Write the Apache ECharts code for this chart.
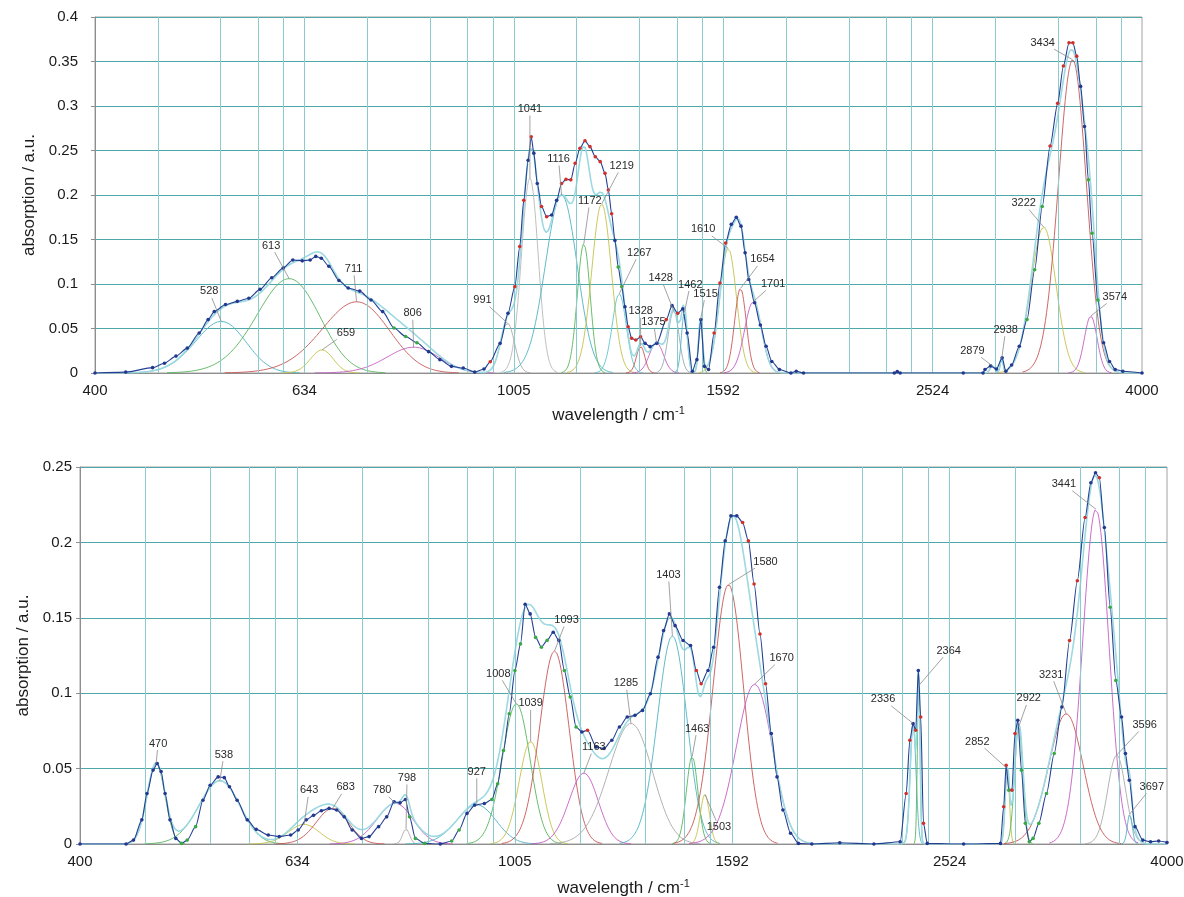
<!DOCTYPE html>
<html>
<head>
<meta charset="utf-8">
<title>IR absorption spectra with Gaussian band decomposition</title>
<script src="https://cdn.jsdelivr.net/npm/echarts@6/dist/echarts.min.js"></script>
<style>
  html, body { margin: 0; padding: 0; background: #ffffff; }
  #chart { width: 1184px; height: 897px; }
</style>
</head>
<body>
<div id="chart"></div>
<script>
// ---------------------------------------------------------------
// Spectrum A (upper panel): measured absorption
// ---------------------------------------------------------------
const topWavenumber = [
  400, 428, 454, 466, 478, 490, 503, 513, 520, 533,
  547, 561, 575, 590, 605, 618, 631, 642, 650, 658,
  669, 684, 698, 716, 734, 753, 772, 792, 812, 833,
  854, 876, 899, 922, 941, 954, 975, 992, 1007, 1018,
  1027, 1037, 1044, 1050, 1058, 1068, 1080, 1092, 1104, 1116,
  1127, 1139, 1150, 1162, 1175, 1188, 1202, 1215, 1228, 1237,
  1246, 1255, 1264, 1274, 1283, 1292, 1302, 1314, 1328, 1341,
  1356, 1376, 1405, 1423, 1441, 1457, 1471, 1488, 1503, 1516,
  1528, 1542, 1561, 1581, 1601, 1621, 1639, 1656, 1671, 1684,
  1706, 1728, 1750, 1772, 1802, 1848, 1870, 1900, 2320, 2335,
  2350, 2700, 2820, 2832, 2867, 2904, 2941, 2965, 3003, 3054,
  3106, 3159, 3212, 3268, 3323, 3365, 3407, 3436, 3465, 3495,
  3525, 3555, 3584, 3630, 3676, 3724, 3771, 3835, 4000
];
const topAbsorbance = [
  0, 0.001, 0.006, 0.011, 0.019, 0.028, 0.045, 0.06, 0.069, 0.077,
  0.0805, 0.084, 0.094, 0.107, 0.118, 0.127, 0.126, 0.127, 0.131, 0.129,
  0.12, 0.104, 0.0955, 0.092, 0.082, 0.069, 0.0506, 0.041, 0.034, 0.024,
  0.015, 0.0075, 0.0056, 0.001, 0.0045, 0.0127, 0.0333, 0.067, 0.097, 0.142,
  0.194, 0.239, 0.2655, 0.247, 0.213, 0.187, 0.1756, 0.1775, 0.194, 0.213,
  0.2176, 0.217, 0.2356, 0.2525, 0.261, 0.2543, 0.243, 0.2375, 0.2243, 0.2056,
  0.179, 0.149, 0.119, 0.097, 0.0745, 0.052, 0.039, 0.037, 0.0408, 0.0333,
  0.0296, 0.0333, 0.06, 0.0757, 0.067, 0.072, 0.045, 0.002, 0.015, 0.06,
  0.0075, 0.004, 0.045, 0.101, 0.146, 0.167, 0.175, 0.165, 0.135, 0.105,
  0.079, 0.054, 0.03, 0.013, 0.004, 0, 0.002, 0, 0, 0.0015,
  0, 0, 0, 0.004, 0.008, 0.0045, 0.017, 0.002, 0.009, 0.03,
  0.06, 0.116, 0.187, 0.255, 0.303, 0.345, 0.371, 0.371, 0.356, 0.322,
  0.277, 0.217, 0.157, 0.082, 0.034, 0.013, 0.004, 0.002, 0
];

// Spectrum A: fitted Gaussian bands (position / cm-1, height, FWHM / cm-1)
const topPeakCenter = [528, 613, 659, 711, 806, 991, 1041, 1116, 1172, 1219, 1267, 1328,
  1375, 1428, 1462, 1515, 1610, 1654, 1701, 2879, 2938, 3222, 3434, 3574];
const topPeakHeight = [0.058, 0.106, 0.026, 0.08, 0.029, 0.056, 0.219, 0.2, 0.145, 0.19, 0.089, 0.030,
  0.034, 0.070, 0.068, 0.060, 0.140, 0.095, 0.080, 0.008, 0.016, 0.164, 0.352, 0.064];
const topPeakFwhm = [69, 100, 39, 124, 109, 36, 45, 92, 39, 62, 46, 29,
  50, 40, 22, 16, 70, 50, 75, 35, 22, 210, 248, 118];

// ---------------------------------------------------------------
// Spectrum B (lower panel): measured absorption
// ---------------------------------------------------------------
const bottomWavenumber = [
  400, 441, 448, 456, 461, 467, 471, 475, 479, 484,
  490, 496, 502, 511, 519, 527, 536, 543, 549, 558,
  570, 581, 596, 610, 625, 635, 646, 656, 667, 678,
  689, 700, 712, 726, 738, 753, 766, 778, 788, 797,
  804, 814, 830, 858, 879, 893, 908, 923, 942, 957,
  969, 981, 993, 1005, 1017, 1027, 1038, 1050, 1063, 1076,
  1090, 1103, 1116, 1130, 1144, 1158, 1172, 1194, 1214, 1234,
  1254, 1275, 1296, 1317, 1339, 1361, 1377, 1394, 1411, 1435,
  1458, 1476, 1491, 1513, 1531, 1550, 1569, 1588, 1608, 1628,
  1648, 1668, 1689, 1709, 1730, 1751, 1773, 1802, 1832, 1885,
  2000, 2150, 2273, 2302, 2320, 2336, 2349, 2362, 2374, 2388,
  2407, 2600, 2811, 2830, 2845, 2861, 2880, 2899, 2916, 2939,
  2963, 2988, 3012, 3049, 3099, 3150, 3202, 3254, 3308, 3363,
  3404, 3438, 3466, 3503, 3546, 3589, 3633, 3663, 3693, 3738,
  3800, 3863, 3930, 4000
];
const bottomAbsorbance = [
  0, 0, 0.0026, 0.016, 0.0335, 0.049, 0.0534, 0.048, 0.0335, 0.016,
  0.0037, 0.0004, 0.0026, 0.0115, 0.029, 0.039, 0.0445, 0.044, 0.038, 0.029,
  0.016, 0.0097, 0.006, 0.0049, 0.006, 0.0093, 0.016, 0.019, 0.022, 0.0236,
  0.0225, 0.018, 0.0093, 0.0037, 0.0049, 0.0115, 0.018, 0.028, 0.0273, 0.0295,
  0.018, 0.0037, 0.0004, 0, 0.002, 0.0093, 0.0203, 0.0258, 0.0269, 0.0295,
  0.04, 0.062, 0.0864, 0.115, 0.1327, 0.159, 0.1526, 0.137, 0.1305, 0.135,
  0.1404, 0.135, 0.115, 0.0974, 0.0776, 0.0743, 0.0754, 0.0644, 0.0633, 0.0688,
  0.0776, 0.0842, 0.0853, 0.0886, 0.0996, 0.1239, 0.1415, 0.1526, 0.1448, 0.1349,
  0.1316, 0.1151, 0.1063, 0.1151, 0.1305, 0.1702, 0.201, 0.2176, 0.2176, 0.2132,
  0.201, 0.1724, 0.1393, 0.1063, 0.0732, 0.0445, 0.0225, 0.0071, 0.0004, 0,
  0.0008, 0, 0.0015, 0.0335, 0.0688, 0.0798, 0.0754, 0.1151, 0.0842, 0.0137,
  0.0004, 0, 0.0004, 0.0247, 0.0522, 0.0357, 0.0357, 0.0732, 0.082, 0.0489,
  0.0137, 0.0015, 0.0037, 0.0137, 0.0335, 0.06, 0.0908, 0.1349, 0.1746, 0.2165,
  0.2396, 0.2462, 0.2429, 0.2099, 0.157, 0.1085, 0.0842, 0.06, 0.0423, 0.0115,
  0.0026, 0.0015, 0.002, 0.001
];

// Spectrum B: fitted Gaussian bands (position / cm-1, height, FWHM / cm-1)
const bottomPeakCenter = [470, 538, 643, 683, 780, 798, 927, 1008, 1039, 1093, 1163, 1285,
  1403, 1463, 1503, 1580, 1670, 2336, 2364, 2852, 2922, 3231, 3441, 3596, 3697];
const bottomPeakHeight = [0.0534, 0.042, 0.013, 0.0236, 0.027, 0.01, 0.026, 0.093, 0.068, 0.128, 0.047, 0.08,
  0.138, 0.058, 0.033, 0.172, 0.106, 0.08, 0.105, 0.05, 0.078, 0.0864, 0.222, 0.059, 0.02];
const bottomPeakFwhm = [21, 55, 50, 55, 70, 14, 90, 70, 59, 80, 85, 140,
  103, 42, 34, 120, 150, 34, 16, 30, 60, 277, 224, 161, 45];

// Wavenumber axis tick labels (log-spaced, five steps per decade)
const xTickLabels = ['400', '634', '1005', '1592', '2524', '4000'];

// ---------------------------------------------------------------
// Styling and layout
// ---------------------------------------------------------------
const C_GREEN = '#58b65c', C_TEAL = '#4fb3c4', C_OLIVE = '#c4c24a', C_RED = '#c85656',
      C_MAG = '#c45ec4', C_GRAY = '#a9a9a9', C_CYAN = '#5ec3cc';
const topPeakColor = [C_TEAL, C_GREEN, C_OLIVE, C_RED, C_MAG, C_GRAY, '#b8b8b8', C_TEAL, C_GREEN, C_OLIVE, C_CYAN, C_RED,
  C_MAG, '#98a8b0', C_TEAL, C_GREEN, C_OLIVE, C_RED, C_MAG, C_GRAY, C_TEAL, C_OLIVE, C_RED, C_MAG];
const bottomPeakColor = [C_GREEN, C_GREEN, C_OLIVE, C_RED, C_MAG, C_GRAY, C_TEAL, C_GREEN, C_OLIVE, C_RED, C_MAG, C_GRAY,
  C_TEAL, C_GREEN, C_OLIVE, C_RED, C_MAG, C_TEAL, C_GREEN, C_OLIVE, C_GREEN, C_RED, C_MAG, C_GRAY, C_TEAL];

// label offsets (px) from each band maximum to its annotation text
const topLabelOffset = [[-12, -30], [-18, -33], [24, -17], [-3, -33], [-1, -34], [-25, -23], [0, -69], [-3, -36],
  [6, -43], [20, -38], [20, -41], [0, -35], [-3, -21], [-13, -33], [6, -28], [5, -26], [-25, -19], [22, -29],
  [20, -18], [-20, -15], [4, -29], [-20, -24], [-30, -17], [24, -19]];
const bottomLabelOffset = [[2, -20], [4, -26], [5, -34], [13, -21], [-13, -13], [1, -51], [0, -33], [-18, -30],
  [0, -38], [12, -31], [10, -26], [-5, -40], [-4, -61], [5, -28], [14, 33], [37, -23], [27, -26], [-30, -24],
  [30, -35], [-30, -27], [10, -28], [-15, -39], [-32, -25], [28, -30], [22, -27]];

const FONT = '"Liberation Sans", Arial, Helvetica, sans-serif';
const TEXT = '#1a1a1a';
const AXIS_GRAY = '#8e8e8e';
const H_GRID = '#4ea7a8';
const V_GRID = '#8ccbcd';

// ---------------------------------------------------------------
// Helpers
// ---------------------------------------------------------------
// logarithmic wavenumber axis: 400 -> 0, 4000 -> 5
const toAxis = w => 5 * Math.log10(w / 400);
const SIGMA_PER_FWHM = 1 / (2 * Math.sqrt(2 * Math.LN2));

function band(w, c, h, f) {
  const s = f * SIGMA_PER_FWHM;
  const d = w - c;
  return h * Math.exp(-d * d / (2 * s * s));
}
function bandSum(w, C, H, F) {
  let s = 0;
  for (let i = 0; i < C.length; i++) s += band(w, C[i], H[i], F[i]);
  return s;
}

// vertical grid: major steps plus sub-lines at log10(2,4,6,8) of each step
const verticalGrid = [];
for (let k = 0; k < 5; k++) {
  if (k > 0) verticalGrid.push(k);
  [2, 4, 6, 8].forEach(m => verticalGrid.push(k + Math.log10(m)));
}

function labelRenderer(labels, offsets) {
  return function (params, api) {
    const i = params.dataIndex;
    const a = api.coord([api.value(0), api.value(1)]);
    const off = offsets[i];
    const cx = a[0] + off[0], cy = a[1] + off[1];
    const text = String(labels[i]);
    const hw = text.length * 3.1 + 1.5, hh = 6.5;
    const vx = a[0] - cx, vy = a[1] - cy;
    const tx = Math.abs(vx) > 1e-6 ? hw / Math.abs(vx) : Infinity;
    const ty = Math.abs(vy) > 1e-6 ? hh / Math.abs(vy) : Infinity;
    const t = Math.min(tx, ty);
    const children = [];
    if (t < 1) {
      children.push({
        type: 'line',
        shape: { x1: cx + vx * t, y1: cy + vy * t, x2: a[0], y2: a[1] },
        style: { stroke: '#8a8a8a', lineWidth: 0.8 }
      });
    }
    children.push({
      type: 'text',
      style: { text: text, x: cx, y: cy, align: 'center', verticalAlign: 'middle',
               font: '11px ' + FONT, fill: '#2a2a2a' }
    });
    return { type: 'group', children: children };
  };
}

function panelSeries(idx, W, A, C, H, F, colors, offsets) {
  const series = [];

  // vertical grid lines
  series.push({
    type: 'line', xAxisIndex: idx, yAxisIndex: idx, data: [[0, 0]],
    showSymbol: false, lineStyle: { opacity: 0 }, silent: true, z: 1,
    markLine: {
      silent: true, symbol: ['none', 'none'], label: { show: false },
      lineStyle: { color: V_GRID, width: 1, type: 'solid' },
      emphasis: { disabled: true },
      data: verticalGrid.map(u => ({ xAxis: u }))
    }
  });

  // individual Gaussian bands
  C.forEach((c, i) => {
    const s = F[i] * SIGMA_PER_FWHM;
    const lo = Math.max(400, c - 3.4 * s), hi = Math.min(4000, c + 3.4 * s);
    const pts = [];
    const n = 90;
    for (let j = 0; j <= n; j++) {
      const w = lo + (hi - lo) * j / n;
      pts.push([toAxis(w), band(w, c, H[i], F[i])]);
    }
    series.push({
      type: 'line', xAxisIndex: idx, yAxisIndex: idx, data: pts, showSymbol: false,
      lineStyle: { color: colors[i], width: 0.9 }, silent: true, z: 2
    });
  });

  // envelope of the fitted bands
  const env = [];
  for (let j = 0; j <= 2500; j++) {
    const u = j * 5 / 2500;
    const w = 400 * Math.pow(10, u / 5);
    env.push([u, bandSum(w, C, H, F)]);
  }
  series.push({
    type: 'line', xAxisIndex: idx, yAxisIndex: idx, data: env, showSymbol: false,
    lineStyle: { color: '#9cd9e0', width: 1.6 }, silent: true, z: 3
  });

  // measured points, coloured by residual against the envelope
  const meas = W.map((w, i) => {
    const r = A[i] - bandSum(w, C, H, F);
    const col = r > 0.007 ? '#d0302c' : (r < -0.007 ? '#37a843' : '#22398f');
    return { value: [toAxis(w), A[i]], itemStyle: { color: col } };
  });
  series.push({
    type: 'line', xAxisIndex: idx, yAxisIndex: idx, data: meas,
    symbol: 'circle', symbolSize: 3.6, showSymbol: true, showAllSymbol: true,
    smooth: 0.25, smoothMonotone: 'x',
    lineStyle: { color: '#233f93', width: 1.1 }, silent: true, z: 5
  });

  // band position annotations
  series.push({
    type: 'custom', xAxisIndex: idx, yAxisIndex: idx,
    data: C.map((c, i) => [toAxis(c), H[i]]),
    renderItem: labelRenderer(C, offsets), clip: false, silent: true, z: 10
  });
  return series;
}

function xAxisFor(idx, nameGap) {
  return {
    type: 'value', gridIndex: idx, min: 0, max: 5, interval: 1,
    axisLine: { show: true, onZero: false, lineStyle: { color: AXIS_GRAY, width: 1 } },
    axisTick: { show: false },
    splitLine: { show: false },
    axisLabel: {
      formatter: v => xTickLabels[Math.round(v)],
      fontSize: 15, color: TEXT, margin: 10, fontFamily: FONT,
      showMinLabel: true, showMaxLabel: true
    },
    name: '{a|wavelength / cm}{s|-1}',
    nameLocation: 'middle', nameGap: nameGap,
    nameTextStyle: {
      rich: {
        a: { fontSize: 17, color: TEXT, fontFamily: FONT, lineHeight: 20 },
        s: { fontSize: 11, color: TEXT, fontFamily: FONT, verticalAlign: 'top', lineHeight: 12 }
      }
    }
  };
}

function yAxisFor(idx, max, labelMargin, nameGap) {
  return {
    type: 'value', gridIndex: idx, min: 0, max: max, interval: 0.05,
    axisLine: { show: true, lineStyle: { color: AXIS_GRAY, width: 1 } },
    axisTick: { show: true, length: 4, lineStyle: { color: AXIS_GRAY } },
    splitLine: { show: true, lineStyle: { color: H_GRID, width: 1.1 } },
    axisLabel: { fontSize: 15, color: TEXT, margin: labelMargin, fontFamily: FONT },
    name: 'absorption / a.u.', nameLocation: 'middle', nameGap: nameGap,
    nameTextStyle: { fontSize: 17, color: TEXT, fontFamily: FONT }
  };
}

const chart = echarts.init(document.getElementById('chart'), null, { renderer: 'canvas' });

chart.setOption({
  backgroundColor: '#ffffff',
  animation: false,
  grid: [
    { left: 95, top: 17, width: 1047, height: 356, show: true, borderColor: '#a2a2a2', borderWidth: 1,
      containLabel: false, outerBoundsMode: 'none' },
    { left: 80, top: 467, width: 1087, height: 377, show: true, borderColor: '#a2a2a2', borderWidth: 1,
      containLabel: false, outerBoundsMode: 'none' }
  ],
  xAxis: [xAxisFor(0, 32), xAxisFor(1, 34)],
  yAxis: [yAxisFor(0, 0.4, 17, 50), yAxisFor(1, 0.25, 8, 47)],
  series: [].concat(
    panelSeries(0, topWavenumber, topAbsorbance, topPeakCenter, topPeakHeight, topPeakFwhm,
                topPeakColor, topLabelOffset),
    panelSeries(1, bottomWavenumber, bottomAbsorbance, bottomPeakCenter, bottomPeakHeight, bottomPeakFwhm,
                bottomPeakColor, bottomLabelOffset)
  )
});
</script>
</body>
</html>
